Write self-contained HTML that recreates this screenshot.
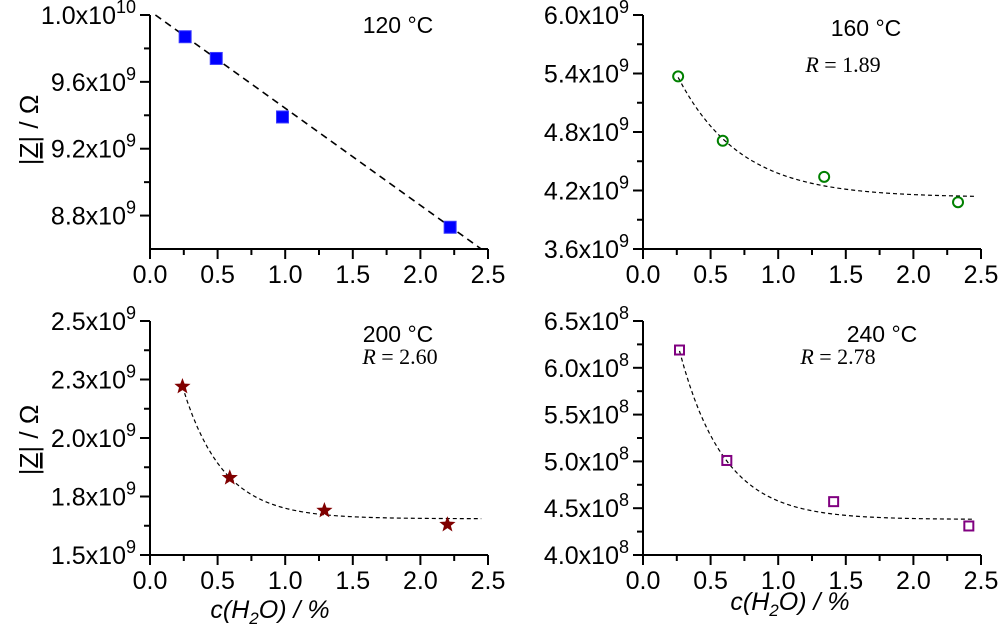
<!DOCTYPE html>
<html><head><meta charset="utf-8">
<style>
body{margin:0;background:#fff;}
svg{display:block;font-family:"Liberation Sans",sans-serif;}
</style></head>
<body>
<svg id="chart" width="1000" height="639" viewBox="0 0 1000 639"></svg>
<script>
// ---- data ----
const xTickLabels = ["0.0","0.5","1.0","1.5","2.0","2.5"];
const tlX = [0.26, 0.49, 0.98, 2.22];
const tlY = [9.87e9, 9.74e9, 9.39e9, 8.73e9];
const trX = [0.26, 0.59, 1.34, 2.33];
const trY = [5.37e9, 4.71e9, 4.34e9, 4.08e9];
const blX = [0.24, 0.59, 1.29, 2.20];
const blY = [2.22e9, 1.83e9, 1.69e9, 1.63e9];
const brX = [0.27, 0.62, 1.41, 2.41];
const brY = [6.19e8, 5.01e8, 4.57e8, 4.31e8];
const tlTicks = [["1.0","10"],["9.6","9"],["9.2","9"],["8.8","9"]];
const tlTickVals = [10.0e9, 9.6e9, 9.2e9, 8.8e9];
const trTicks = [["6.0","9"],["5.4","9"],["4.8","9"],["4.2","9"],["3.6","9"]];
const trTickVals = [6.0e9, 5.4e9, 4.8e9, 4.2e9, 3.6e9];
const blTicks = [["2.5","9"],["2.3","9"],["2.0","9"],["1.8","9"],["1.5","9"]];
const blTickVals = [2.5e9, 2.25e9, 2.0e9, 1.75e9, 1.5e9];
const brTicks = [["6.5","8"],["6.0","8"],["5.5","8"],["5.0","8"],["4.5","8"],["4.0","8"]];
const brTickVals = [6.5e8, 6.0e8, 5.5e8, 5.0e8, 4.5e8, 4.0e8];
// fit params: [asymptote, x0, y(x0), decay]
const trFit = [4.13e9, 0.26, 5.36e9, 0.46];
const blFit = [1.655e9, 0.24, 2.22e9, 0.30];
const brFit = [4.38e8, 0.27, 6.18e8, 0.33];
const tlLine = [0.04, 10.0e9, 2.45, 8.6e9];

const NS="http://www.w3.org/2000/svg";
const svg=document.getElementById('chart');
function el(tag,attrs,parent){const e=document.createElementNS(NS,tag);for(const k in attrs)e.setAttribute(k,attrs[k]);(parent||svg).appendChild(e);return e;}

function panel(name,cfg){
  const g=el('g',{});
  
  
  const L=cfg.left,R=L+338,T=cfg.top,B=cfg.bottom;
  const sx=v=>L+v/2.5*338;
  const sy=v=>B-(v-cfg.ymin)/(cfg.ymax-cfg.ymin)*(B-T);
  const ax=el('path',{d:`M${L},${T} L${L},${B} L${R},${B}`,stroke:'#000','stroke-width':2,fill:'none'},g);
  
  
  for(let i=0;i<=10;i++){
    const v=i*0.25,x=sx(v),len=i%2?6:10;
    el('line',{x1:x,y1:B,x2:x,y2:B+len,stroke:'#000','stroke-width':2},g);
  }
  xTickLabels.forEach((t,i)=>{
    const tx=el('text',{x:sx(i*0.5),y:B+34,'font-size':25,'text-anchor':'middle'},g);
    tx.textContent=t;
    
    
  });
  cfg.tickVals.forEach((v,i)=>{
    const y=sy(v);
    el('line',{x1:L-10,y1:y,x2:L,y2:y,stroke:'#000','stroke-width':2},g);
    if(i<cfg.tickVals.length-1){const ym=sy((v+cfg.tickVals[i+1])/2);el('line',{x1:L-6,y1:ym,x2:L,y2:ym,stroke:'#000','stroke-width':2},g);}
    const tx=el('text',{x:L-14,y:y+9,'font-size':25,'text-anchor':'end'},g);
    
    
    const a=document.createElementNS(NS,'tspan');a.textContent=cfg.ticks[i][0]+'x10';tx.appendChild(a);
    const b=document.createElementNS(NS,'tspan');b.setAttribute('dy',-11);b.setAttribute('font-size',18);b.textContent=cfg.ticks[i][1];tx.appendChild(b);
  });
  let d='';
  if(cfg.line){
    d=`M${sx(cfg.line[0])},${sy(cfg.line[1])} L${sx(cfg.line[2])},${sy(cfg.line[3])}`;
  } else {
    const f=cfg.fit;
    for(let k=0;k<=60;k++){const x=f[1]+(2.45-f[1])*k/60;const y=f[0]+(f[2]-f[0])*Math.exp(-(x-f[1])/f[3]);d+=(k?'L':'M')+sx(x)+','+sy(y);}
  }
  const fp=el('path',{d:d,stroke:'#000','stroke-width':cfg.line?1.6:1.2,'stroke-dasharray':cfg.line?'7,5':'4,3',fill:'none'},g);
  
  
  cfg.xs.forEach((xv,i)=>{
    const x=sx(xv),y=sy(cfg.ys[i]);let m;
    if(cfg.marker==='sq') m=el('rect',{x:x-6,y:y-6,width:12,height:12,fill:'#0000ff',stroke:'#3b3bff'},g);
    else if(cfg.marker==='circ') m=el('circle',{cx:x,cy:y,r:5,fill:'none',stroke:'#008000','stroke-width':2},g);
    else if(cfg.marker==='osq') m=el('rect',{x:x-4.5,y:y-4.5,width:9,height:9,fill:'none',stroke:'#800080','stroke-width':2},g);
    else {let p='';for(let k=0;k<10;k++){const r=k%2?3.6:8.5,a=-Math.PI/2+k*Math.PI/5;p+=(x+r*Math.cos(a))+','+(y+r*Math.sin(a))+' ';}
      m=el('polygon',{points:p,fill:'#800000'},g);}
    
    
  });
  const t1=el('text',{x:cfg.tempX,y:cfg.tempY,'font-size':23,'text-anchor':'middle'},g);
  t1.textContent=cfg.temp;
  
  
  if(cfg.r){
    const t2=el('text',{x:cfg.rX,y:cfg.rY,'font-size':22,'text-anchor':'middle','font-family':'Liberation Serif, serif'},g);
    t2.innerHTML='<tspan font-style="italic">R</tspan> = '+cfg.r;
    
    
  }
}
panel('panel-120c',{left:150,top:15,bottom:249,ymin:8.6e9,ymax:10.0e9,tickVals:tlTickVals,ticks:tlTicks,xs:tlX,ys:tlY,marker:'sq',line:tlLine,temp:'120 °C',tempX:398,tempY:33});
panel('panel-160c',{left:643,top:15,bottom:249,ymin:3.6e9,ymax:6.0e9,tickVals:trTickVals,ticks:trTicks,xs:trX,ys:trY,marker:'circ',fit:trFit,temp:'160 °C',tempX:866,tempY:36,r:'1.89',rX:843,rY:72});
panel('panel-200c',{left:150,top:321,bottom:555,ymin:1.5e9,ymax:2.5e9,tickVals:blTickVals,ticks:blTicks,xs:blX,ys:blY,marker:'star',fit:blFit,temp:'200 °C',tempX:398,tempY:342,r:'2.60',rX:400,rY:364});
panel('panel-240c',{left:643,top:321,bottom:555,ymin:4.0e8,ymax:6.5e8,tickVals:brTickVals,ticks:brTicks,xs:brX,ys:brY,marker:'osq',fit:brFit,temp:'240 °C',tempX:882,tempY:342,r:'2.78',rX:838,rY:364});

[[130,'y-axis-title-top'],[440,'y-axis-title-bottom']].forEach(([cy,n])=>{
  const t=el('text',{x:0,y:0,'font-size':26,'text-anchor':'middle',transform:`translate(38,${cy}) rotate(-90)`});
  t.innerHTML='|<tspan text-decoration="underline">Z</tspan>| / Ω';
  
  
});
[[270,618,'x-axis-title-left'],[790,610,'x-axis-title-right']].forEach(([cx,cy,n])=>{
  const t=el('text',{x:cx,y:cy,'font-size':25,'text-anchor':'middle','font-style':'italic'});
  t.innerHTML='c(H<tspan dy="6" font-size="17">2</tspan><tspan dy="-6">O) / %</tspan>';
  
  
});
</script>
</body></html>
